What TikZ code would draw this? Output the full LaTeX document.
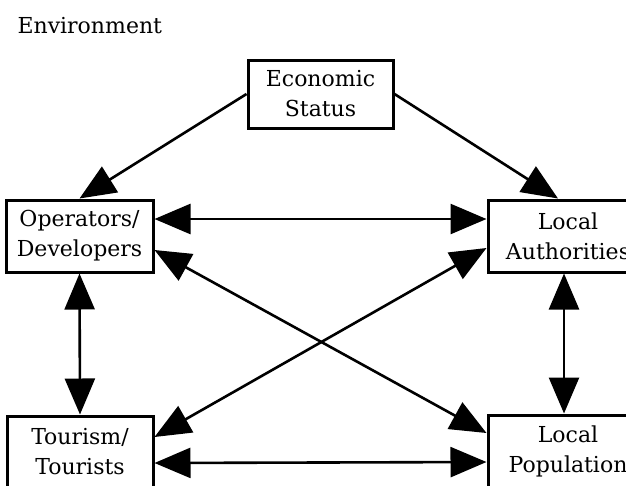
\documentclass[tikz,border=0pt]{standalone}
\usepackage{fontspec}
\setmainfont{DejaVu Serif}
\usepackage{tikz}
\usetikzlibrary{arrows.meta}

\begin{document}
\begin{tikzpicture}[x=1pt, y=-1pt,
    box/.style={draw, line width=3pt, align=center, inner sep=0pt,
                font=\fontsize{22}{30}\selectfont},
    link/.style={line width=2.6pt, {Triangle[length=36pt, width=30pt]}-{Triangle[length=36pt, width=30pt]}},
    push/.style={line width=2.6pt, -{Triangle[length=36pt, width=30pt]}}]
                \useasboundingbox (0, 0) rectangle (626, 485);
                \clip (0, 0) rectangle (626, 485);

                \node[anchor=base west, font=\fontsize{22}{30}\selectfont] (Env) at (14, 33) {Environment};

                \node[box, minimum width=145pt, minimum height=68pt] (Econ) at (320.5, 94) {Economic\\Status};
                \node[box, minimum width=147pt, minimum height=72pt] (Oper) at (79.5, 236) {Operators/\\Developers};
                \node[box, minimum width=160pt, minimum height=72pt] (Auth) at (568, 236) {Local\\Authorities};
                \node[box, minimum width=146pt, minimum height=72pt] (Tour) at (80, 452) {Tourism/\\Tourists};
                \node[box, minimum width=160pt, minimum height=72pt] (Pop) at (568, 451) {Local\\Population};

                \draw[push] (Econ.west) -- (Oper.north);
                \draw[push] (Econ.east) -- ([xshift=-10pt]Auth.north);

                \draw[link] ([yshift=17pt]Oper.east) -- ([yshift=17pt]Auth.west);
                \draw[link] ([yshift=-14pt]Oper.east) -- ([yshift=18pt]Pop.west);
                \draw[link] ([yshift=-12pt]Auth.west) -- ([yshift=15pt]Tour.east);
                \draw[link] (Oper.south) -- (Tour.north);
                \draw[link] ([xshift=-4pt]Auth.south) -- ([xshift=-4pt]Pop.north);
                \draw[link] ([yshift=-11pt]Tour.east) -- ([yshift=-11pt]Pop.west);

            \end{tikzpicture}
\end{document}
